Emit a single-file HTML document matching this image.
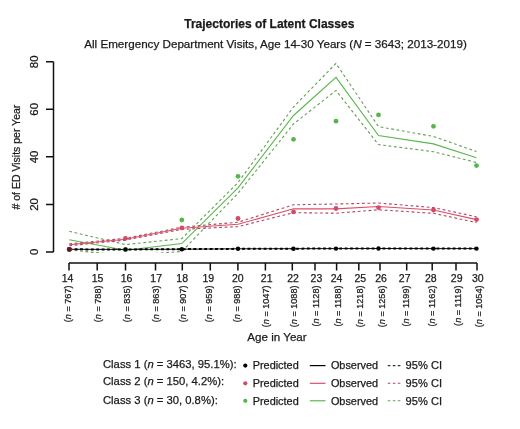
<!DOCTYPE html>
<html><head><meta charset="utf-8"><style>
html,body{margin:0;padding:0;background:#fff;}
svg{display:block;}
text{font-family:"Liberation Sans",sans-serif;fill:#1a1a1a;stroke:#1a1a1a;stroke-width:0.25px;}
</style></head><body>
<svg width="520" height="429" viewBox="0 0 520 429">
<defs><clipPath id="clp"><rect x="0" y="0" width="520" height="253.0"/></clipPath></defs>
<rect width="520" height="429" fill="#fff"/>
<path d="M53.5,61.8V251.9M46,61.8H53.5M46,109.3H53.5M46,156.8H53.5M46,204.4H53.5M46,251.9H53.5" stroke="#111" stroke-width="1.5" fill="none"/>
<path d="M69,263H477M69.0,263V270.6M97.2,263V270.6M125.5,263V270.6M155.5,263V270.6M182.3,263V270.6M210.3,263V270.6M237.9,263V270.6M265.4,263V270.6M292.3,263V270.6M315.0,263V270.6M336.6,263V270.6M358.8,263V270.6M380.0,263V270.6M406.7,263V270.6M432.2,263V270.6M456.0,263V270.6M477.0,263V270.6" stroke="#111" stroke-width="1.5" fill="none"/>
<polyline points="69.3,231.3 125.5,244.6 181.8,238.6 238.0,182.6 293.5,107.0 336.0,63.4 378.5,126.6 433.5,136.5 476.5,151.5" fill="none" stroke="#62a055" stroke-width="1.1" stroke-dasharray="2.8 2.6"/>
<g clip-path="url(#clp)">
<polyline points="69.3,250.0 125.5,255.5 181.8,251.5 238.0,193.3 293.5,124.0 336.0,90.4 378.5,144.6 433.5,151.7 476.5,162.5" fill="none" stroke="#62a055" stroke-width="1.1" stroke-dasharray="2.8 2.6"/>
</g>
<polyline points="69.3,239.7 125.5,250.2 181.8,243.6 238.0,187.8 293.5,115.5 336.0,77.4 378.5,135.5 433.5,143.9 476.5,157.8" fill="none" stroke="#58b84a" stroke-width="1.1"/>
<polyline points="69.3,243.9 125.5,238.3 181.8,227.2 238.0,222.2 293.5,204.8 336.0,204.0 378.5,203.0 433.5,207.6 476.5,216.8" fill="none" stroke="#b04862" stroke-width="1.1" stroke-dasharray="2.8 2.6"/>
<polyline points="69.3,245.7 125.5,240.1 181.8,229.4 238.0,226.6 293.5,212.7 336.0,213.2 378.5,209.8 433.5,213.3 476.5,222.6" fill="none" stroke="#b04862" stroke-width="1.1" stroke-dasharray="2.8 2.6"/>
<polyline points="69.3,244.8 125.5,239.2 181.8,228.3 238.0,224.3 293.5,208.8 336.0,208.9 378.5,206.5 433.5,210.0 476.5,219.6" fill="none" stroke="#d9506a" stroke-width="1.1"/>
<polyline points="69.3,249.3 125.5,249.4 181.8,249.2 238.0,248.8 293.5,248.7 336.0,248.6 378.5,248.5 433.5,248.6 476.5,248.6" fill="none" stroke="#111" stroke-width="1.0"/>
<polyline points="69.3,249.0 125.5,249.1 181.8,248.8 238.0,248.5 293.5,248.3 336.0,248.2 378.5,248.2 433.5,248.2 476.5,248.2" fill="none" stroke="#000" stroke-width="1.3" stroke-dasharray="2.8 2.6"/>
<polyline points="69.3,249.7 125.5,249.8 181.8,249.5 238.0,249.2 293.5,249.0 336.0,248.9 378.5,248.8 433.5,248.9 476.5,248.9" fill="none" stroke="#000" stroke-width="1.3" stroke-dasharray="2.8 2.6"/>
<circle cx="69.3" cy="249.3" r="2.4" fill="#57b64b"/>
<circle cx="125.5" cy="249.6" r="2.4" fill="#57b64b"/>
<circle cx="181.8" cy="220.0" r="2.4" fill="#57b64b"/>
<circle cx="238.0" cy="176.3" r="2.4" fill="#57b64b"/>
<circle cx="293.5" cy="139.3" r="2.4" fill="#57b64b"/>
<circle cx="336.0" cy="121.2" r="2.4" fill="#57b64b"/>
<circle cx="378.5" cy="114.9" r="2.4" fill="#57b64b"/>
<circle cx="433.5" cy="126.3" r="2.4" fill="#57b64b"/>
<circle cx="476.5" cy="165.6" r="2.4" fill="#57b64b"/>
<circle cx="69.3" cy="249.3" r="2.2" fill="#000"/>
<circle cx="125.5" cy="249.4" r="2.2" fill="#000"/>
<circle cx="181.8" cy="249.2" r="2.2" fill="#000"/>
<circle cx="238.0" cy="248.8" r="2.2" fill="#000"/>
<circle cx="293.5" cy="248.7" r="2.2" fill="#000"/>
<circle cx="336.0" cy="248.6" r="2.2" fill="#000"/>
<circle cx="378.5" cy="248.5" r="2.2" fill="#000"/>
<circle cx="433.5" cy="248.6" r="2.2" fill="#000"/>
<circle cx="476.5" cy="248.6" r="2.2" fill="#000"/>
<circle cx="69.3" cy="249.4" r="2.4" fill="#d24c66"/>
<circle cx="125.5" cy="238.3" r="2.4" fill="#d24c66"/>
<circle cx="181.8" cy="227.9" r="2.4" fill="#d24c66"/>
<circle cx="238.0" cy="218.5" r="2.4" fill="#d24c66"/>
<circle cx="293.5" cy="211.9" r="2.4" fill="#d24c66"/>
<circle cx="336.0" cy="208.5" r="2.4" fill="#d24c66"/>
<circle cx="378.5" cy="207.6" r="2.4" fill="#d24c66"/>
<circle cx="433.5" cy="210.0" r="2.4" fill="#d24c66"/>
<circle cx="476.5" cy="219.6" r="2.4" fill="#d24c66"/>
<circle cx="69.3" cy="249.4" r="2.4" fill="#5a1a28"/>
<circle cx="245.3" cy="365.6" r="2.1" fill="#000"/>
<path d="M309.8,365.6H325.5" stroke="#000" stroke-width="1.2"/>
<path d="M387.8,365.6H400.4" stroke="#333" stroke-width="1.1" stroke-dasharray="2.6 2.4"/>
<circle cx="245.3" cy="383.3" r="2.1" fill="#d24c66"/>
<path d="M309.8,383.3H325.5" stroke="#d9506a" stroke-width="1.2"/>
<path d="M387.8,383.3H400.4" stroke="#b04862" stroke-width="1.1" stroke-dasharray="2.6 2.4"/>
<circle cx="245.3" cy="400.8" r="2.1" fill="#57b64b"/>
<path d="M309.8,400.8H325.5" stroke="#58b84a" stroke-width="1.2"/>
<path d="M387.8,400.8H400.4" stroke="#62a055" stroke-width="1.1" stroke-dasharray="2.6 2.4"/>
<g style="filter:grayscale(1)">
<text x="269.3" y="27.9" text-anchor="middle" font-weight="bold" font-size="12">Trajectories of Latent Classes</text>
<text x="275.5" y="48.3" text-anchor="middle" font-size="11.65">All Emergency Department Visits, Age 14-30 Years (<tspan font-style="italic">N</tspan> = 3643; 2013-2019)</text>
<text transform="translate(37.9,251.9) rotate(-90)" text-anchor="middle" font-size="11.4">0</text>
<text transform="translate(37.9,204.4) rotate(-90)" text-anchor="middle" font-size="11.4">20</text>
<text transform="translate(37.9,156.9) rotate(-90)" text-anchor="middle" font-size="11.4">40</text>
<text transform="translate(37.9,109.3) rotate(-90)" text-anchor="middle" font-size="11.4">60</text>
<text transform="translate(37.9,61.8) rotate(-90)" text-anchor="middle" font-size="11.4">80</text>
<text transform="translate(20,157.1) rotate(-90)" text-anchor="middle" font-size="10.5"># of ED Visits per Year</text>
<text x="67.59" y="281.5" text-anchor="middle" font-size="10.5">14</text>
<text transform="translate(71.21,285.5) rotate(-90)" text-anchor="end" font-size="9.1">(<tspan font-style="italic">n</tspan> = 767)</text>
<text x="97.57" y="281.5" text-anchor="middle" font-size="10.5">15</text>
<text transform="translate(101.01,285.5) rotate(-90)" text-anchor="end" font-size="9.1">(<tspan font-style="italic">n</tspan> = 788)</text>
<text x="126.56" y="281.5" text-anchor="middle" font-size="10.5">16</text>
<text transform="translate(130.35,285.5) rotate(-90)" text-anchor="end" font-size="9.1">(<tspan font-style="italic">n</tspan> = 835)</text>
<text x="156.18" y="281.5" text-anchor="middle" font-size="10.5">17</text>
<text transform="translate(159.41,285.5) rotate(-90)" text-anchor="end" font-size="9.1">(<tspan font-style="italic">n</tspan> = 863)</text>
<text x="182.15" y="281.5" text-anchor="middle" font-size="10.5">18</text>
<text transform="translate(186.34,285.5) rotate(-90)" text-anchor="end" font-size="9.1">(<tspan font-style="italic">n</tspan> = 907)</text>
<text x="208.37" y="281.5" text-anchor="middle" font-size="10.5">19</text>
<text transform="translate(212.30,285.5) rotate(-90)" text-anchor="end" font-size="9.1">(<tspan font-style="italic">n</tspan> = 959)</text>
<text x="237.74" y="281.5" text-anchor="middle" font-size="10.5">20</text>
<text transform="translate(239.78,285.5) rotate(-90)" text-anchor="end" font-size="9.1">(<tspan font-style="italic">n</tspan> = 988)</text>
<text x="266.67" y="281.5" text-anchor="middle" font-size="10.5">21</text>
<text transform="translate(268.71,285.5) rotate(-90)" text-anchor="end" font-size="9.1">(<tspan font-style="italic">n</tspan> = 1047)</text>
<text x="293.00" y="281.5" text-anchor="middle" font-size="10.5">22</text>
<text transform="translate(297.10,285.5) rotate(-90)" text-anchor="end" font-size="9.1">(<tspan font-style="italic">n</tspan> = 1088)</text>
<text x="316.42" y="281.5" text-anchor="middle" font-size="10.5">23</text>
<text transform="translate(319.37,285.5) rotate(-90)" text-anchor="end" font-size="9.1">(<tspan font-style="italic">n</tspan> = 1128)</text>
<text x="336.59" y="281.5" text-anchor="middle" font-size="10.5">24</text>
<text transform="translate(340.86,285.5) rotate(-90)" text-anchor="end" font-size="9.1">(<tspan font-style="italic">n</tspan> = 1188)</text>
<text x="360.33" y="281.5" text-anchor="middle" font-size="10.5">25</text>
<text transform="translate(362.75,285.5) rotate(-90)" text-anchor="end" font-size="9.1">(<tspan font-style="italic">n</tspan> = 1218)</text>
<text x="380.97" y="281.5" text-anchor="middle" font-size="10.5">26</text>
<text transform="translate(385.05,285.5) rotate(-90)" text-anchor="end" font-size="9.1">(<tspan font-style="italic">n</tspan> = 1256)</text>
<text x="404.70" y="281.5" text-anchor="middle" font-size="10.5">27</text>
<text transform="translate(408.97,285.5) rotate(-90)" text-anchor="end" font-size="9.1">(<tspan font-style="italic">n</tspan> = 1199)</text>
<text x="430.74" y="281.5" text-anchor="middle" font-size="10.5">28</text>
<text transform="translate(434.69,285.5) rotate(-90)" text-anchor="end" font-size="9.1">(<tspan font-style="italic">n</tspan> = 1162)</text>
<text x="456.67" y="281.5" text-anchor="middle" font-size="10.5">29</text>
<text transform="translate(461.22,285.5) rotate(-90)" text-anchor="end" font-size="9.1">(<tspan font-style="italic">n</tspan> = 1119)</text>
<text x="477.75" y="281.5" text-anchor="middle" font-size="10.5">30</text>
<text transform="translate(482.23,285.5) rotate(-90)" text-anchor="end" font-size="9.1">(<tspan font-style="italic">n</tspan> = 1054)</text>
<text x="277" y="341.1" text-anchor="middle" font-size="11.6">Age in Year</text>
<text x="103.0" y="368.4" font-size="11.25">Class 1 (<tspan font-style="italic">n</tspan> = 3463, 95.1%):</text>
<text x="103.0" y="385.1" font-size="11.25">Class 2 (<tspan font-style="italic">n</tspan> = 150, 4.2%):</text>
<text x="103.0" y="403.6" font-size="11.25">Class 3 (<tspan font-style="italic">n</tspan> = 30, 0.8%):</text>
<text x="252.7" y="368.7" font-size="10.9">Predicted</text>
<text x="330.9" y="368.7" font-size="10.9">Observed</text>
<text x="405.6" y="368.7" font-size="11.1">95% CI</text>
<text x="252.7" y="387.0" font-size="10.9">Predicted</text>
<text x="330.9" y="387.0" font-size="10.9">Observed</text>
<text x="405.6" y="387.0" font-size="11.1">95% CI</text>
<text x="252.7" y="404.5" font-size="10.9">Predicted</text>
<text x="330.9" y="404.5" font-size="10.9">Observed</text>
<text x="405.6" y="404.5" font-size="11.1">95% CI</text>
</g>
</svg></body></html>
